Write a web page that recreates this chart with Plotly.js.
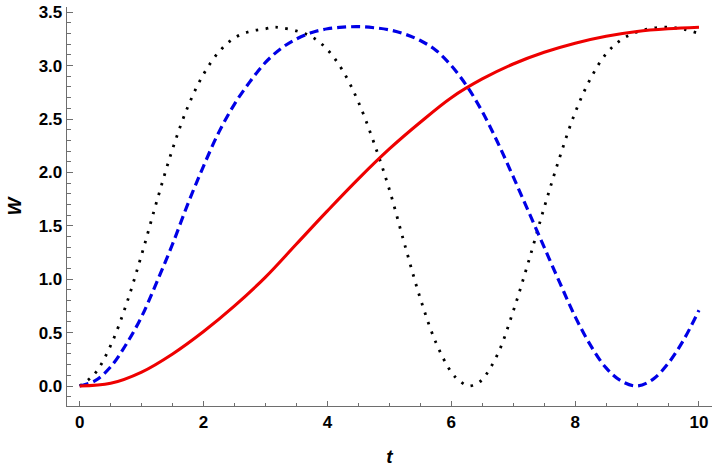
<!DOCTYPE html>
<html>
<head>
<meta charset="utf-8">
<script src="https://cdn.plot.ly/plotly-3.0.1.min.js"></script>
<style>html,body{margin:0;padding:0;background:#fff;}#chart{width:720px;height:470px;}</style>
</head>
<body>
<div id="chart"></div>
<script>
// Solid red curve
var redT = [0, 0.5, 1.0, 1.5, 2.0, 2.5, 3.0, 3.5, 4.0, 4.5, 5.0, 5.5, 6.0, 6.5, 7.0, 7.5, 8.0, 8.5, 9.0, 9.5, 10.0];
var redW = [0, 0.025, 0.13, 0.30, 0.51, 0.75, 1.02, 1.33, 1.64, 1.94, 2.22, 2.47, 2.70, 2.875, 3.015, 3.125, 3.21, 3.275, 3.32, 3.345, 3.36];

// Dashed blue curve
var blueT = [0, 0.25, 0.5, 0.75, 1.0, 1.25, 1.5, 1.75, 2.0, 2.25, 2.5, 2.75, 3.0, 3.25, 3.5, 3.75, 4.0, 4.25, 4.5, 4.75, 5.0, 5.25, 5.5, 5.75, 6.0, 6.25, 6.5, 6.75, 7.0, 7.25, 7.5, 7.75, 8.0, 8.25, 8.5, 8.75, 9.0, 9.25, 9.5, 9.75, 10.0];
var blueW = [0, 0.05, 0.18, 0.39, 0.65, 0.98, 1.33, 1.71, 2.06, 2.38, 2.64, 2.85, 3.03, 3.16, 3.25, 3.31, 3.345, 3.36, 3.365, 3.355, 3.335, 3.295, 3.235, 3.145, 3.00, 2.81, 2.57, 2.28, 1.96, 1.63, 1.30, 0.97, 0.65, 0.38, 0.17, 0.045, 0.0, 0.06, 0.21, 0.43, 0.71];

// Dotted black curve
var blackT = [0, 0.25, 0.5, 0.75, 1.0, 1.25, 1.5, 1.75, 2.0, 2.25, 2.5, 2.75, 3.0, 3.14, 3.25, 3.5, 3.75, 4.0, 4.25, 4.5, 4.75, 5.0, 5.25, 5.5, 5.75, 6.0, 6.14, 6.28, 6.4, 6.5, 6.75, 7.0, 7.25, 7.5, 7.75, 8.0, 8.25, 8.5, 8.75, 9.0, 9.25, 9.5, 9.75, 10.0];
var blackW = [0, 0.12, 0.38, 0.76, 1.23, 1.74, 2.22, 2.62, 2.92, 3.13, 3.26, 3.32, 3.345, 3.36, 3.355, 3.325, 3.27, 3.15, 2.95, 2.66, 2.28, 1.84, 1.32, 0.82, 0.41, 0.13, 0.045, 0.0, 0.02, 0.06, 0.30, 0.70, 1.17, 1.67, 2.14, 2.56, 2.88, 3.11, 3.245, 3.315, 3.35, 3.36, 3.34, 3.30];

var xTickVals = [0, 2, 4, 6, 8, 10];
var yTickVals = [0.0, 0.5, 1.0, 1.5, 2.0, 2.5, 3.0, 3.5];

var xRange = [-0.205, 10.21];
var yRange = [-0.187, 3.549];

var frameColor = '#6e6e6e';
var tickFont = {family: 'Liberation Sans, Arial, sans-serif', size: 17, color: '#000', weight: 'bold'};

var traces = [
  {x: blackT, y: blackW, mode: 'lines', line: {color: '#000000', width: 2.8, dash: '2.5px,7.5px', shape: 'spline', smoothing: 1}, hoverinfo: 'skip'},
  {x: blueT, y: blueW, mode: 'lines', line: {color: '#0000e6', width: 3.2, dash: '9px,5px', shape: 'spline', smoothing: 1}, hoverinfo: 'skip'},
  {x: redT, y: redW, mode: 'lines', line: {color: '#ee0000', width: 3.1, shape: 'spline', smoothing: 1}, hoverinfo: 'skip'}
];

var layout = {
  width: 720, height: 470,
  margin: {l: 67, r: 8, t: 7, b: 64, pad: 0},
  paper_bgcolor: '#ffffff', plot_bgcolor: '#ffffff',
  showlegend: false,
  xaxis: {
    range: xRange, showgrid: false, zeroline: false,
    showline: true, linecolor: frameColor, linewidth: 1.3,
    tickmode: 'array', tickvals: xTickVals, ticktext: xTickVals.map(function(v){return String(v);}),
    ticks: 'inside', ticklen: 5, tickcolor: frameColor, tickwidth: 1,
    minor: {dtick: 0.5, tick0: 0, ticks: 'inside', ticklen: 3.5, tickcolor: frameColor, tickwidth: 1, showgrid: false},
    tickfont: tickFont,
    title: {text: 't', font: {family: 'Liberation Sans, Arial, sans-serif', size: 19, color: '#000', weight: 'bold', style: 'italic'}, standoff: 19}
  },
  yaxis: {
    range: yRange, showgrid: false, zeroline: false,
    showline: true, linecolor: frameColor, linewidth: 1.3,
    tickmode: 'array', tickvals: yTickVals, ticktext: yTickVals.map(function(v){return v.toFixed(1);}),
    ticks: 'inside', ticklen: 6, tickcolor: frameColor, tickwidth: 1,
    minor: {dtick: 0.1, tick0: 0, ticks: 'inside', ticklen: 3.5, tickcolor: frameColor, tickwidth: 1, showgrid: false},
    tickfont: tickFont,
    title: {text: 'W', font: {family: 'Liberation Sans, Arial, sans-serif', size: 19, color: '#000', weight: 'bold', style: 'italic'}, standoff: 12}
  },
  xaxis2: {
    overlaying: 'x', side: 'top', anchor: 'y', matches: 'x',
    range: xRange, showgrid: false, zeroline: false,
    showline: true, linecolor: frameColor, linewidth: 1.3,
    dtick: 0.5, tick0: 0, ticks: 'inside', ticklen: 4, tickcolor: frameColor, showticklabels: false
  },
  yaxis2: {
    overlaying: 'y', side: 'right', anchor: 'x',
    range: yRange, showgrid: false, zeroline: false,
    showline: true, linecolor: frameColor, linewidth: 1.3,
    dtick: 0.2, tick0: 0, ticks: 'inside', ticklen: 4, tickcolor: frameColor, showticklabels: false
  }
};

Plotly.newPlot('chart', traces, layout, {staticPlot: true, displayModeBar: false});
</script>
</body>
</html>
